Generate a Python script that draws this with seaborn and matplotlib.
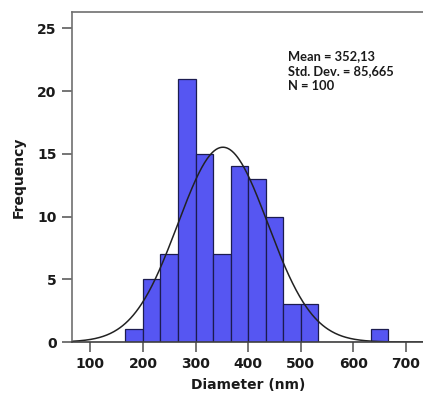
import numpy as np
import pandas as pd
import matplotlib
matplotlib.use('Agg')
import matplotlib.pyplot as plt
import seaborn as sns

# Histogram of particle diameters (bin width 33.3 nm)
bin_start = 500 / 3
bin_stop = 2000 / 3
bin_width = 100 / 3
counts = [1, 5, 7, 21, 15, 7, 14, 13, 10, 3, 3, 0, 0, 0, 1]
mean_d = 352.13
sd_d = 85.665
n_obs = 100

x_ticks = [100, 200, 300, 400, 500, 600, 700]
y_ticks = [0, 5, 10, 15, 20, 25]

centers = bin_start + bin_width * (np.arange(len(counts)) + 0.5)
df = pd.DataFrame({'Diameter': centers, 'Count': counts})

# fitted normal curve, scaled to counts
xs = np.linspace(65, 740, 400)
ys = n_obs * bin_width * np.exp(-0.5 * ((xs - mean_d) / sd_d) ** 2) / (sd_d * np.sqrt(2 * np.pi))
curve = pd.DataFrame({'x': xs, 'y': ys})

sns.set_style('white')
plt.rcParams['font.family'] = ['DejaVu Sans']

fig = plt.figure(figsize=(4.23, 4.04), dpi=100)
ax = fig.add_axes([72 / 423, 62 / 404, 360 / 423, 330 / 404])

sns.histplot(data=df, x='Diameter', weights='Count', binwidth=bin_width,
             binrange=(bin_start, bin_stop),
             color='#5656F2', alpha=1, edgecolor='#1c1c50', linewidth=0.9, ax=ax)
sns.lineplot(data=curve, x='x', y='y', color='#222222', linewidth=1.1, ax=ax)

ax.set_xlim(65, 750)
ax.set_ylim(0, 26.3)
ax.set_xticks(x_ticks)
ax.set_yticks(y_ticks)

for side in ['left', 'top', 'bottom']:
    ax.spines[side].set_color('#707070')
    ax.spines[side].set_linewidth(1.2)
ax.spines['right'].set_visible(False)
ax.spines['bottom'].set_color('#404040')

ax.tick_params(axis='both', direction='out', length=7, width=1.1, color='#505050',
               labelsize=10, pad=4, left=True, bottom=True)
for lab in ax.get_xticklabels() + ax.get_yticklabels():
    lab.set_fontweight('bold')
    lab.set_color('#1a1a1a')

ax.set_xlabel('Diameter (nm)', fontsize=10, fontweight='bold', labelpad=9, color='#1a1a1a')
ax.set_ylabel('Frequency', fontsize=10, fontweight='bold', labelpad=8, color='#1a1a1a')
ax.xaxis.set_label_coords((248 - 72) / 360, -0.11)

ax.text(288 / 423, 1 - 71 / 404, 'Mean = 352,13\nStd. Dev. = 85,665\nN = 100',
        transform=fig.transFigure, fontsize=9.3, fontweight='bold',
        family=['Lato', 'DejaVu Sans'], va='center', ha='left', linespacing=1.25,
        color='#1a1a1a')

fig.savefig('out.png', dpi=100)
